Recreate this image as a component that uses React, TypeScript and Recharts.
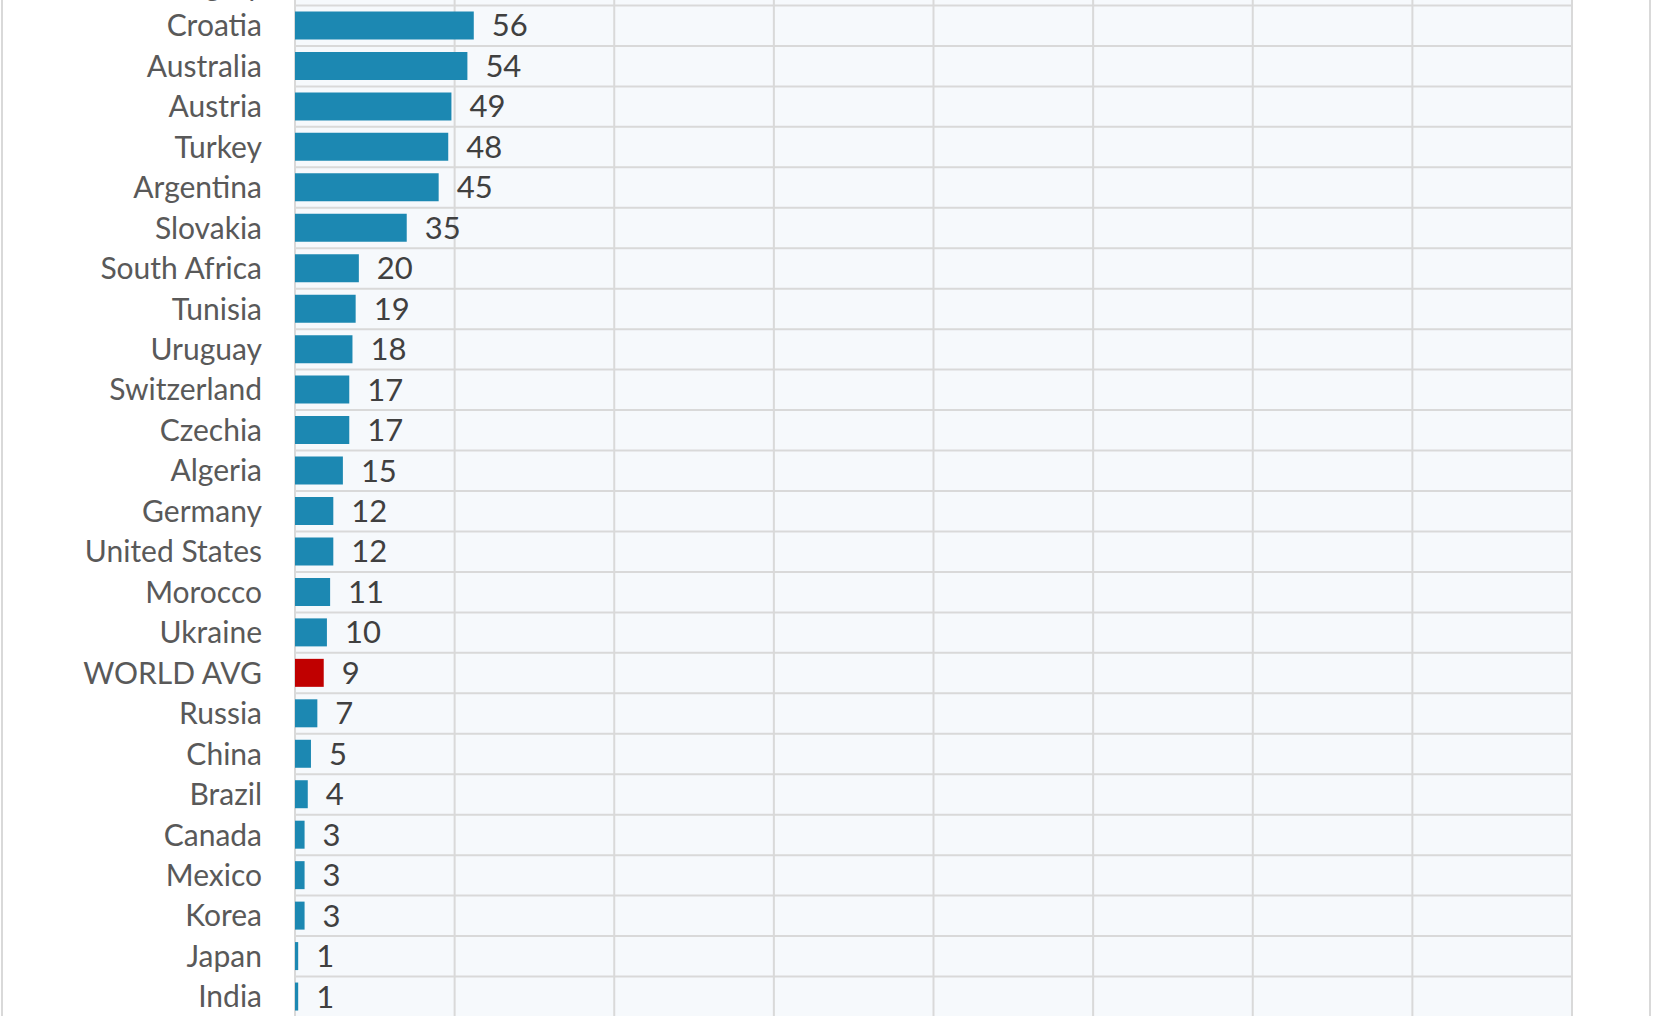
import { BarChart, Bar, XAxis, YAxis, CartesianGrid, Cell, LabelList } from "recharts";

// Rows from top to bottom; the first one is cut off by the top edge of the picture
const countries = [
  "Hungary",
  "Croatia",
  "Australia",
  "Austria",
  "Turkey",
  "Argentina",
  "Slovakia",
  "South Africa",
  "Tunisia",
  "Uruguay",
  "Switzerland",
  "Czechia",
  "Algeria",
  "Germany",
  "United States",
  "Morocco",
  "Ukraine",
  "WORLD AVG",
  "Russia",
  "China",
  "Brazil",
  "Canada",
  "Mexico",
  "Korea",
  "Japan",
  "India",
];
const values = [62, 56, 54, 49, 48, 45, 35, 20, 19, 18, 17, 17, 15, 12, 12, 11, 10, 9, 7, 5, 4, 3, 3, 3, 1, 1];
const xTicks = [0, 50, 100, 150, 200, 250, 300, 350, 400];
const highlight = "WORLD AVG";

const BLUE = "#1c88b2";
const RED = "#c00000";
const GRID = "#d9d9d9";
const FONT = "Lato, 'Open Sans', sans-serif";

const data = countries.map((name, i) => ({ name, value: values[i] }));

// Excel-style row separators: lines between categories, not through their centres
const rowLines = ({ offset, height }: any) => {
  const top = offset?.top ?? 0;
  const h = offset?.height ?? height - top - (offset?.bottom ?? 0);
  const n = countries.length;
  return Array.from({ length: n + 1 }, (_, i) => top + (i * h) / n);
};

// x axis labels sit below the cropped picture, so draw nothing for them
const NoTick = () => <g />;

export default function App() {
  return (
    <div
      style={{
        position: "fixed",
        left: 0,
        top: 0,
        width: 1654,
        height: 1016,
        overflow: "hidden",
        background: "#fff",
      }}
    >
      {/* chart area frame, top and bottom cropped */}
      <div
        style={{
          position: "absolute",
          left: 1,
          top: -10,
          width: 1646,
          height: 1040,
          borderLeft: `2px solid ${GRID}`,
          borderRight: `2px solid ${GRID}`,
        }}
      />
      <div style={{ position: "absolute", left: 0, top: -35 }}>
        <BarChart
          width={1654}
          height={1062}
          data={data}
          layout="vertical"
          margin={{ top: 0, right: 82, bottom: 0, left: 0 }}
          barSize={28}
        >
          <CartesianGrid
            fill="#f6f9fc"
            stroke={GRID}
            strokeWidth={2}
            horizontalCoordinatesGenerator={rowLines}
          />
          <XAxis
            type="number"
            domain={[0, 400]}
            ticks={xTicks}
            height={10}
            axisLine={false}
            tickLine={false}
            tick={NoTick}
          />
          <YAxis
            type="category"
            dataKey="name"
            width={295}
            axisLine={false}
            tickLine={false}
            tickSize={0}
            tickMargin={33}
            interval={0}
            tick={{ fill: "#595959", fontSize: 30, fontFamily: FONT }}
          />
          <Bar dataKey="value" isAnimationActive={false}>
            {data.map((d) => (
              <Cell key={d.name} fill={d.name === highlight ? RED : BLUE} />
            ))}
            <LabelList
              dataKey="value"
              position="right"
              offset={18}
              fill="#404040"
              fontSize={31}
              fontFamily={FONT}
            />
          </Bar>
        </BarChart>
      </div>
    </div>
  );
}
